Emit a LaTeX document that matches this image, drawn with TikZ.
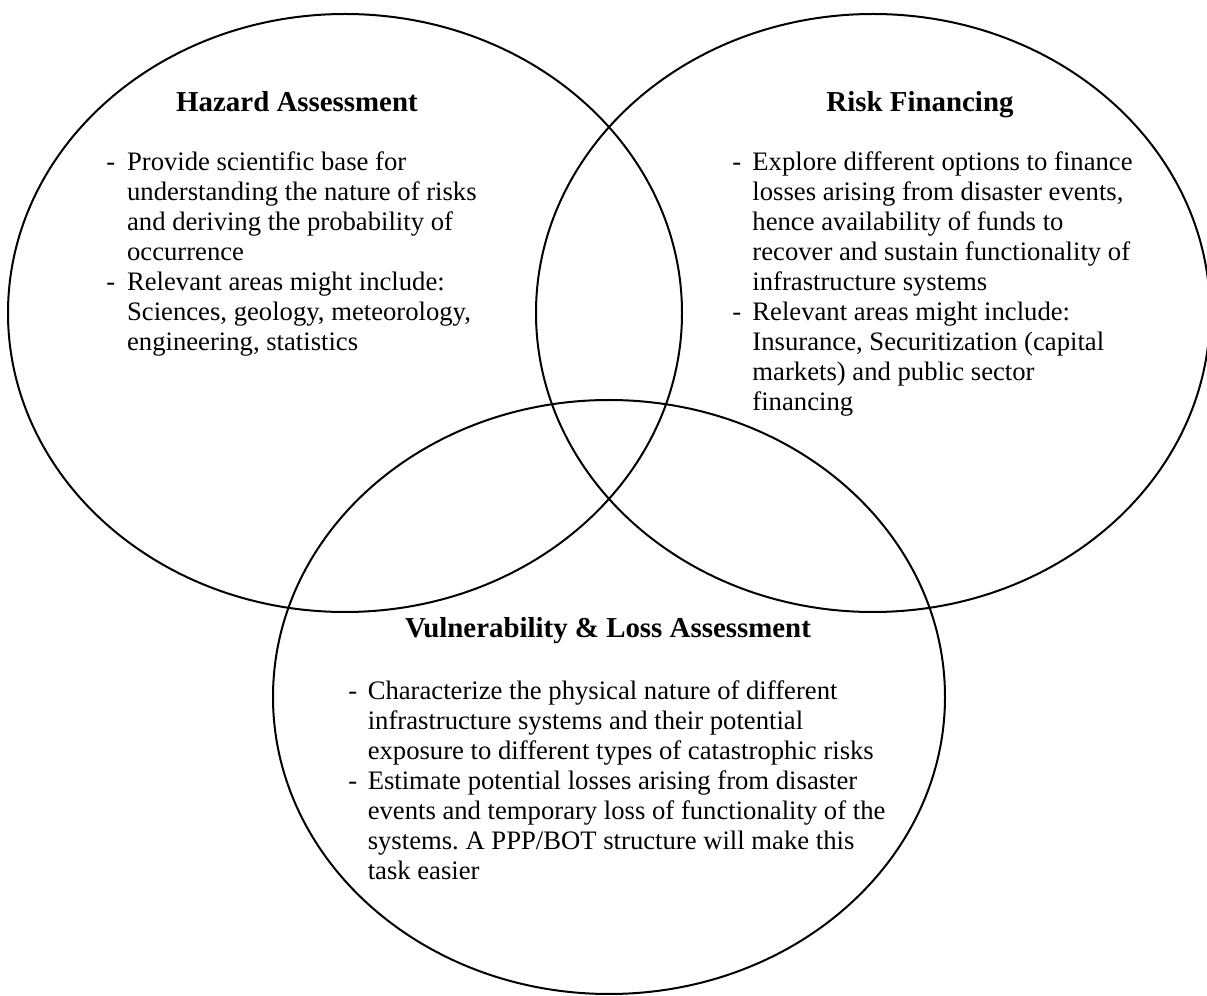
\documentclass[tikz,border=0pt]{standalone}
\usepackage{fontspec}
\setmainfont{Liberation Serif}
\begin{document}
\frenchspacing
\begin{tikzpicture}[x=0.45pt,y=-0.45pt,
  ring/.style={draw=black, line width=0.9pt},
  head/.style={anchor=base, inner sep=0pt, font=\fontsize{13}{15}\selectfont\bfseries},
  body/.style={anchor=base west, inner sep=0pt, align=left, font=\fontsize{12}{13.5}\selectfont}]
  \useasboundingbox (0,0) rectangle (1207,996);
  \clip (0,0) rectangle (1207,996);

  % the three overlapping fields
  \draw[ring] (345,313) ellipse [x radius=337, y radius=299];
  \draw[ring] (873,313) ellipse [x radius=337, y radius=299];
  \draw[ring] (609,697) ellipse [x radius=336, y radius=297];

  % headings
  \node[head] (hazT) at (297,112) {Hazard Assessment};
  \node[head] (finT) at (920,112) {Risk Financing};
  \node[head] (vulT) at (608,638) {Vulnerability \& Loss Assessment};

  % bullet lists
  \node[body] (hazB) at (106,171) {%
    \begin{tabular}[t]{@{}l@{}l@{}}
      \makebox[9.3pt][l]{-} & Provide scientific base for\\
       & understanding the nature of risks\\
       & and deriving the probability of\\
       & occurrence\\
      \makebox[9.3pt][l]{-} & Relevant areas might include:\\
       & Sciences, geology, meteorology,\\
       & engineering, statistics
    \end{tabular}};

  \node[body] (finB) at (732,171) {%
    \begin{tabular}[t]{@{}l@{}l@{}}
      \makebox[9pt][l]{-} & Explore different options to finance\\
       & losses arising from disaster events,\\
       & hence availability of funds to\\
       & recover and sustain functionality of\\
       & infrastructure systems\\
      \makebox[9pt][l]{-} & Relevant areas might include:\\
       & Insurance, Securitization (capital\\
       & markets) and public sector\\
       & financing
    \end{tabular}};

  \node[body] (vulB) at (348,700) {%
    \begin{tabular}[t]{@{}l@{}l@{}}
      \makebox[8.7pt][l]{-} & Characterize the physical nature of different\\
       & infrastructure systems and their potential\\
       & exposure to different types of catastrophic risks\\
      \makebox[8.7pt][l]{-} & Estimate potential losses arising from disaster\\
       & events and temporary loss of functionality of the\\
       & systems. A PPP/BOT structure will make this\\
       & task easier
    \end{tabular}};
\end{tikzpicture}
\end{document}
